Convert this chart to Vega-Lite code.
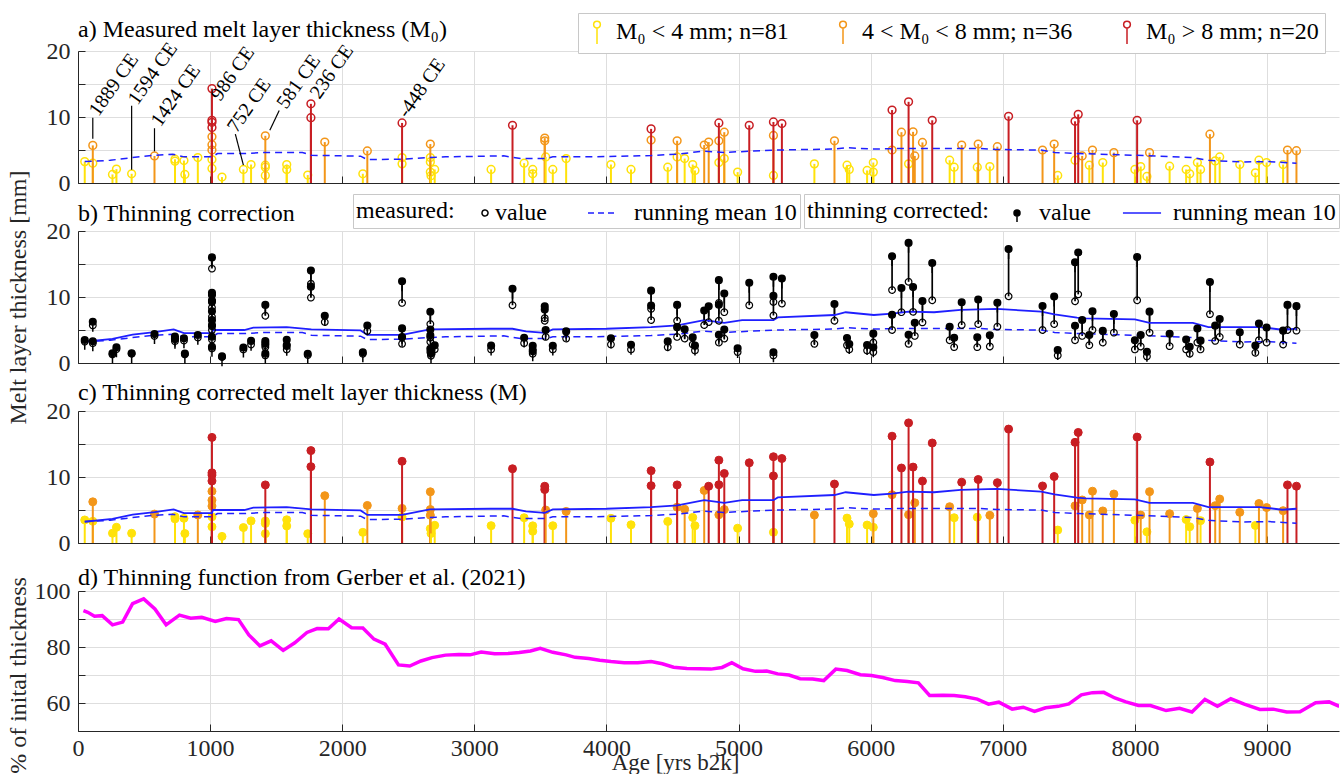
{
 "$schema": "https://vega.github.io/schema/vega-lite/v6.json",
 "padding": {"left": 6, "top": 12, "right": 0, "bottom": 0},
 "bounds": "flush",
 "spacing": 48,
 "config": {
  "font": "Liberation Serif",
  "view": {"stroke": null},
  "axis": {"labelFontSize": 24, "labelColor": "#262626", "titleFontSize": 24, "titleFontWeight": "normal", "titleColor": "#262626", "gridColor": "#dedede", "domainColor": "#262626", "tickColor": "#262626", "labelFont": "Liberation Serif", "titleFont": "Liberation Serif"},
  "title": {"anchor": "start", "frame": "group", "fontSize": 24, "fontWeight": "normal", "font": "Liberation Serif", "color": "black", "offset": 4},
  "legend": {"labelFont": "Liberation Serif", "labelFontSize": 24, "labelColor": "black", "titleFont": "Liberation Serif", "titleFontSize": 24, "titleFontWeight": "normal", "titleColor": "black", "strokeColor": "#c8c8c8", "fillColor": "white", "labelLimit": 500, "titleLimit": 500}
 },
 "datasets": {
  "ev": [
{"age":51,"m0":3.24,"m":3.49,"c0":"y","c1":"y"},
{"age":112,"m0":3.0,"m":3.29,"c0":"y","c1":"y"},
{"age":112,"m0":5.7,"m":6.24,"c0":"o","c1":"o"},
{"age":261,"m0":1.3,"m":1.48,"c0":"y","c1":"y"},
{"age":291,"m0":2.1,"m":2.38,"c0":"y","c1":"y"},
{"age":406,"m0":1.4,"m":1.47,"c0":"y","c1":"y"},
{"age":579,"m0":4.1,"m":4.38,"c0":"o","c1":"o"},
{"age":734,"m0":3.3,"m":3.66,"c0":"y","c1":"y"},
{"age":734,"m0":3.6,"m":3.99,"c0":"y","c1":"y"},
{"age":802,"m0":3.4,"m":3.74,"c0":"y","c1":"y"},
{"age":809,"m0":1.3,"m":1.43,"c0":"y","c1":"y"},
{"age":907,"m0":3.85,"m":4.25,"c0":"y","c1":"o"},
{"age":1014,"m0":2.2,"m":2.46,"c0":"y","c1":"y"},
{"age":1014,"m0":3.55,"m":3.97,"c0":"y","c1":"y"},
{"age":1014,"m0":5.0,"m":5.59,"c0":"o","c1":"o"},
{"age":1014,"m0":5.8,"m":6.49,"c0":"o","c1":"o"},
{"age":1014,"m0":7.0,"m":7.83,"c0":"o","c1":"o"},
{"age":1014,"m0":8.4,"m":9.4,"c0":"r","c1":"r"},
{"age":1014,"m0":9.2,"m":10.29,"c0":"r","c1":"r"},
{"age":1014,"m0":9.5,"m":10.63,"c0":"r","c1":"r"},
{"age":1014,"m0":14.3,"m":16.0,"c0":"r","c1":"r"},
{"age":1090,"m0":0.9,"m":1.0,"c0":"y","c1":"y"},
{"age":1252,"m0":2.05,"m":2.34,"c0":"y","c1":"y"},
{"age":1310,"m0":2.8,"m":3.35,"c0":"y","c1":"y"},
{"age":1418,"m0":1.15,"m":1.42,"c0":"y","c1":"y"},
{"age":1418,"m0":2.4,"m":2.96,"c0":"y","c1":"y"},
{"age":1418,"m0":2.7,"m":3.33,"c0":"y","c1":"y"},
{"age":1418,"m0":7.15,"m":8.8,"c0":"o","c1":"r"},
{"age":1580,"m0":2.05,"m":2.58,"c0":"y","c1":"y"},
{"age":1580,"m0":2.8,"m":3.52,"c0":"y","c1":"y"},
{"age":1739,"m0":1.2,"m":1.41,"c0":"y","c1":"y"},
{"age":1763,"m0":9.9,"m":11.57,"c0":"r","c1":"r"},
{"age":1763,"m0":12.0,"m":14.0,"c0":"r","c1":"r"},
{"age":1868,"m0":6.2,"m":7.17,"c0":"o","c1":"o"},
{"age":2156,"m0":1.4,"m":1.61,"c0":"y","c1":"y"},
{"age":2190,"m0":4.85,"m":5.69,"c0":"o","c1":"o"},
{"age":2453,"m0":2.9,"m":3.95,"c0":"y","c1":"y"},
{"age":2453,"m0":3.85,"m":5.24,"c0":"y","c1":"o"},
{"age":2453,"m0":9.1,"m":12.38,"c0":"r","c1":"r"},
{"age":2667,"m0":1.65,"m":2.17,"c0":"y","c1":"y"},
{"age":2667,"m0":3.2,"m":4.21,"c0":"y","c1":"o"},
{"age":2667,"m0":3.85,"m":5.07,"c0":"y","c1":"o"},
{"age":2667,"m0":5.9,"m":7.76,"c0":"o","c1":"o"},
{"age":2672,"m0":1.1,"m":1.45,"c0":"y","c1":"y"},
{"age":2700,"m0":2.05,"m":2.68,"c0":"y","c1":"y"},
{"age":3127,"m0":2.05,"m":2.63,"c0":"y","c1":"y"},
{"age":3289,"m0":8.75,"m":11.25,"c0":"r","c1":"r"},
{"age":3377,"m0":3.0,"m":3.83,"c0":"y","c1":"y"},
{"age":3442,"m0":1.4,"m":1.78,"c0":"y","c1":"y"},
{"age":3442,"m0":2.05,"m":2.6,"c0":"y","c1":"y"},
{"age":3533,"m0":6.4,"m":8.1,"c0":"o","c1":"r"},
{"age":3533,"m0":6.8,"m":8.6,"c0":"o","c1":"r"},
{"age":3540,"m0":3.95,"m":5.0,"c0":"y","c1":"o"},
{"age":3594,"m0":2.05,"m":2.62,"c0":"y","c1":"y"},
{"age":3695,"m0":3.7,"m":4.79,"c0":"y","c1":"o"},
{"age":4034,"m0":2.8,"m":3.74,"c0":"y","c1":"y"},
{"age":4186,"m0":2.05,"m":2.76,"c0":"y","c1":"y"},
{"age":4338,"m0":6.5,"m":8.69,"c0":"o","c1":"r"},
{"age":4338,"m0":8.2,"m":10.96,"c0":"r","c1":"r"},
{"age":4464,"m0":2.4,"m":3.27,"c0":"y","c1":"y"},
{"age":4535,"m0":3.95,"m":5.43,"c0":"y","c1":"o"},
{"age":4535,"m0":6.4,"m":8.8,"c0":"o","c1":"r"},
{"age":4592,"m0":3.7,"m":5.11,"c0":"y","c1":"o"},
{"age":4653,"m0":2.8,"m":3.88,"c0":"y","c1":"y"},
{"age":4670,"m0":1.9,"m":2.63,"c0":"y","c1":"y"},
{"age":4740,"m0":5.75,"m":7.96,"c0":"o","c1":"o"},
{"age":4774,"m0":6.2,"m":8.6,"c0":"o","c1":"r"},
{"age":4851,"m0":3.1,"m":4.28,"c0":"y","c1":"o"},
{"age":4851,"m0":6.4,"m":8.83,"c0":"o","c1":"r"},
{"age":4851,"m0":9.1,"m":12.55,"c0":"r","c1":"r"},
{"age":4892,"m0":3.7,"m":5.06,"c0":"y","c1":"o"},
{"age":4892,"m0":7.7,"m":10.53,"c0":"o","c1":"r"},
{"age":4993,"m0":1.65,"m":2.24,"c0":"y","c1":"y"},
{"age":5081,"m0":8.75,"m":12.15,"c0":"r","c1":"r"},
{"age":5264,"m0":1.15,"m":1.62,"c0":"y","c1":"y"},
{"age":5264,"m0":7.2,"m":10.17,"c0":"o","c1":"r"},
{"age":5264,"m0":9.25,"m":13.07,"c0":"r","c1":"r"},
{"age":5328,"m0":9.0,"m":12.8,"c0":"r","c1":"r"},
{"age":5574,"m0":2.9,"m":4.23,"c0":"y","c1":"o"},
{"age":5726,"m0":6.4,"m":8.93,"c0":"o","c1":"r"},
{"age":5821,"m0":2.7,"m":3.77,"c0":"y","c1":"y"},
{"age":5838,"m0":2.05,"m":2.88,"c0":"y","c1":"y"},
{"age":5973,"m0":1.9,"m":2.72,"c0":"y","c1":"y"},
{"age":6020,"m0":1.65,"m":2.37,"c0":"y","c1":"y"},
{"age":6020,"m0":3.1,"m":4.45,"c0":"y","c1":"o"},
{"age":6162,"m0":5.0,"m":7.32,"c0":"o","c1":"o"},
{"age":6162,"m0":11.05,"m":16.18,"c0":"r","c1":"r"},
{"age":6233,"m0":7.7,"m":11.36,"c0":"o","c1":"r"},
{"age":6287,"m0":2.9,"m":4.29,"c0":"y","c1":"o"},
{"age":6287,"m0":12.3,"m":18.2,"c0":"r","c1":"r"},
{"age":6321,"m0":7.75,"m":11.5,"c0":"o","c1":"r"},
{"age":6334,"m0":4.1,"m":6.09,"c0":"o","c1":"o"},
{"age":6392,"m0":6.15,"m":9.38,"c0":"o","c1":"r"},
{"age":6466,"m0":9.5,"m":15.15,"c0":"r","c1":"r"},
{"age":6598,"m0":3.45,"m":5.5,"c0":"y","c1":"o"},
{"age":6632,"m0":2.4,"m":3.83,"c0":"y","c1":"y"},
{"age":6689,"m0":5.75,"m":9.21,"c0":"o","c1":"r"},
{"age":6807,"m0":2.4,"m":3.91,"c0":"y","c1":"y"},
{"age":6814,"m0":5.9,"m":9.62,"c0":"o","c1":"r"},
{"age":6902,"m0":2.5,"m":4.19,"c0":"y","c1":"o"},
{"age":6959,"m0":5.5,"m":9.14,"c0":"o","c1":"r"},
{"age":7044,"m0":10.1,"m":17.26,"c0":"r","c1":"r"},
{"age":7301,"m0":5.0,"m":8.64,"c0":"o","c1":"r"},
{"age":7389,"m0":5.9,"m":10.07,"c0":"o","c1":"r"},
{"age":7416,"m0":1.15,"m":1.96,"c0":"y","c1":"y"},
{"age":7547,"m0":3.45,"m":5.63,"c0":"y","c1":"o"},
{"age":7547,"m0":9.35,"m":15.25,"c0":"r","c1":"r"},
{"age":7571,"m0":10.4,"m":16.75,"c0":"r","c1":"r"},
{"age":7601,"m0":4.1,"m":6.52,"c0":"o","c1":"o"},
{"age":7655,"m0":2.7,"m":4.25,"c0":"y","c1":"o"},
{"age":7679,"m0":5.0,"m":7.85,"c0":"o","c1":"o"},
{"age":7757,"m0":3.1,"m":4.86,"c0":"y","c1":"o"},
{"age":7841,"m0":4.6,"m":7.42,"c0":"o","c1":"o"},
{"age":8000,"m0":2.05,"m":3.45,"c0":"y","c1":"y"},
{"age":8017,"m0":9.5,"m":16.05,"c0":"r","c1":"r"},
{"age":8044,"m0":2.5,"m":4.23,"c0":"y","c1":"o"},
{"age":8091,"m0":1.0,"m":1.69,"c0":"y","c1":"y"},
{"age":8111,"m0":4.6,"m":7.78,"c0":"o","c1":"o"},
{"age":8263,"m0":2.55,"m":4.43,"c0":"y","c1":"o"},
{"age":8388,"m0":2.05,"m":3.55,"c0":"y","c1":"y"},
{"age":8415,"m0":1.4,"m":2.46,"c0":"y","c1":"y"},
{"age":8473,"m0":3.1,"m":5.23,"c0":"y","c1":"o"},
{"age":8497,"m0":2.05,"m":3.39,"c0":"y","c1":"y"},
{"age":8568,"m0":7.4,"m":12.27,"c0":"o","c1":"r"},
{"age":8608,"m0":3.35,"m":5.66,"c0":"y","c1":"o"},
{"age":8642,"m0":3.95,"m":6.66,"c0":"y","c1":"o"},
{"age":8794,"m0":2.8,"m":4.65,"c0":"y","c1":"o"},
{"age":8912,"m0":1.55,"m":2.66,"c0":"y","c1":"y"},
{"age":8939,"m0":3.45,"m":5.98,"c0":"y","c1":"o"},
{"age":8997,"m0":3.1,"m":5.37,"c0":"y","c1":"o"},
{"age":9122,"m0":2.8,"m":4.9,"c0":"y","c1":"o"},
{"age":9155,"m0":5.0,"m":8.8,"c0":"o","c1":"r"},
{"age":9223,"m0":4.9,"m":8.61,"c0":"o","c1":"r"}
  ],
  "rm": [
{"age":51,"v":3.24,"s":"m"},{"age":244,"v":3.44,"s":"m"},{"age":413,"v":3.86,"s":"m"},{"age":579,"v":4.2,"s":"m"},{"age":717,"v":4.37,"s":"m"},{"age":802,"v":3.96,"s":"m"},{"age":1014,"v":3.96,"s":"m"},{"age":1056,"v":4.47,"s":"m"},{"age":1259,"v":4.47,"s":"m"},{"age":1428,"v":4.63,"s":"m"},{"age":1699,"v":4.63,"s":"m"},{"age":1766,"v":4.2,"s":"m"},{"age":2139,"v":4.06,"s":"m"},{"age":2190,"v":3.55,"s":"m"},{"age":2453,"v":3.6,"s":"m"},{"age":2663,"v":3.86,"s":"m"},{"age":2782,"v":3.96,"s":"m"},{"age":3222,"v":4.11,"s":"m"},{"age":3357,"v":3.7,"s":"m"},{"age":3543,"v":3.7,"s":"m"},{"age":3594,"v":3.96,"s":"m"},{"age":3898,"v":3.96,"s":"m"},{"age":4250,"v":4.11,"s":"m"},{"age":4338,"v":4.16,"s":"m"},{"age":4537,"v":4.37,"s":"m"},{"age":4740,"v":4.83,"s":"m"},{"age":4892,"v":4.63,"s":"m"},{"age":5264,"v":4.99,"s":"m"},{"age":5726,"v":5.14,"s":"m"},{"age":5811,"v":5.35,"s":"m"},{"age":6024,"v":5.14,"s":"m"},{"age":6277,"v":5.24,"s":"m"},{"age":6818,"v":5.24,"s":"m"},{"age":6953,"v":5.09,"s":"m"},{"age":7291,"v":4.99,"s":"m"},{"age":7392,"v":4.63,"s":"m"},{"age":7578,"v":4.47,"s":"m"},{"age":8000,"v":4.2,"s":"m"},{"age":8439,"v":3.86,"s":"m"},{"age":8557,"v":3.44,"s":"m"},{"age":8811,"v":3.19,"s":"m"},{"age":9014,"v":3.24,"s":"m"},{"age":9182,"v":3.03,"s":"m"},{"age":9223,"v":3.0,"s":"m"},
{"age":51,"v":3.22,"s":"c"},{"age":261,"v":3.64,"s":"c"},{"age":413,"v":4.31,"s":"c"},{"age":579,"v":4.68,"s":"c"},{"age":724,"v":5.09,"s":"c"},{"age":802,"v":4.52,"s":"c"},{"age":1014,"v":4.52,"s":"c"},{"age":1022,"v":5.0,"s":"c"},{"age":1259,"v":5.0,"s":"c"},{"age":1327,"v":5.35,"s":"c"},{"age":1580,"v":5.45,"s":"c"},{"age":1766,"v":5.09,"s":"c"},{"age":2139,"v":4.94,"s":"c"},{"age":2190,"v":4.26,"s":"c"},{"age":2453,"v":4.26,"s":"c"},{"age":2663,"v":5.09,"s":"c"},{"age":3120,"v":5.19,"s":"c"},{"age":3289,"v":5.19,"s":"c"},{"age":3391,"v":4.78,"s":"c"},{"age":3533,"v":4.57,"s":"c"},{"age":3594,"v":5.09,"s":"c"},{"age":4000,"v":5.19,"s":"c"},{"age":4338,"v":5.45,"s":"c"},{"age":4537,"v":5.71,"s":"c"},{"age":4740,"v":6.49,"s":"c"},{"age":4892,"v":6.08,"s":"c"},{"age":5027,"v":6.49,"s":"c"},{"age":5264,"v":6.49,"s":"c"},{"age":5297,"v":6.91,"s":"c"},{"age":5726,"v":7.27,"s":"c"},{"age":5811,"v":7.69,"s":"c"},{"age":6024,"v":7.27,"s":"c"},{"age":6162,"v":7.48,"s":"c"},{"age":6287,"v":7.79,"s":"c"},{"age":6480,"v":7.69,"s":"c"},{"age":6682,"v":8.05,"s":"c"},{"age":6953,"v":8.2,"s":"c"},{"age":7291,"v":7.79,"s":"c"},{"age":7392,"v":7.38,"s":"c"},{"age":7561,"v":6.86,"s":"c"},{"age":7628,"v":6.75,"s":"c"},{"age":8000,"v":6.6,"s":"c"},{"age":8111,"v":6.08,"s":"c"},{"age":8439,"v":6.08,"s":"c"},{"age":8557,"v":5.45,"s":"c"},{"age":8946,"v":5.45,"s":"c"},{"age":9115,"v":5.04,"s":"c"},{"age":9223,"v":5.19,"s":"c"}
  ],
  "th": [
{"age":41,"f":93.0},{"age":74,"f":92.4},{"age":125,"f":91.0},{"age":183,"f":91.2},{"age":261,"f":87.9},{"age":338,"f":88.9},{"age":413,"f":95.5},{"age":497,"f":97.2},{"age":582,"f":93.6},{"age":667,"f":87.9},{"age":768,"f":91.4},{"age":853,"f":90.3},{"age":937,"f":90.6},{"age":1039,"f":89.1},{"age":1124,"f":90.2},{"age":1215,"f":89.8},{"age":1293,"f":84.3},{"age":1377,"f":80.4},{"age":1462,"f":82.2},{"age":1553,"f":78.8},{"age":1641,"f":81.5},{"age":1733,"f":85.2},{"age":1810,"f":86.6},{"age":1895,"f":86.5},{"age":1976,"f":90.0},{"age":2071,"f":86.9},{"age":2156,"f":86.8},{"age":2240,"f":82.8},{"age":2325,"f":81.0},{"age":2426,"f":73.6},{"age":2511,"f":73.2},{"age":2596,"f":75.0},{"age":2680,"f":76.2},{"age":2782,"f":77.1},{"age":2883,"f":77.3},{"age":2968,"f":77.2},{"age":3052,"f":78.2},{"age":3154,"f":77.6},{"age":3255,"f":77.7},{"age":3340,"f":78.0},{"age":3425,"f":78.6},{"age":3499,"f":79.5},{"age":3594,"f":78.1},{"age":3695,"f":77.2},{"age":3763,"f":76.3},{"age":3865,"f":75.9},{"age":3949,"f":75.3},{"age":4034,"f":74.8},{"age":4135,"f":74.4},{"age":4237,"f":74.4},{"age":4338,"f":74.8},{"age":4423,"f":74.0},{"age":4508,"f":72.8},{"age":4609,"f":72.3},{"age":4704,"f":72.2},{"age":4791,"f":72.1},{"age":4875,"f":72.7},{"age":4949,"f":74.4},{"age":5034,"f":72.2},{"age":5128,"f":71.3},{"age":5213,"f":71.4},{"age":5297,"f":70.4},{"age":5382,"f":70.0},{"age":5466,"f":68.7},{"age":5561,"f":68.6},{"age":5645,"f":68.0},{"age":5736,"f":72.1},{"age":5821,"f":71.6},{"age":5922,"f":70.1},{"age":6007,"f":69.8},{"age":6091,"f":69.1},{"age":6186,"f":68.0},{"age":6277,"f":67.7},{"age":6361,"f":67.2},{"age":6446,"f":62.7},{"age":6547,"f":62.8},{"age":6632,"f":62.7},{"age":6716,"f":62.2},{"age":6807,"f":61.4},{"age":6892,"f":59.6},{"age":6970,"f":60.3},{"age":7071,"f":57.8},{"age":7155,"f":58.5},{"age":7240,"f":57.0},{"age":7324,"f":58.3},{"age":7419,"f":58.8},{"age":7500,"f":59.7},{"age":7595,"f":62.9},{"age":7679,"f":63.7},{"age":7764,"f":63.8},{"age":7848,"f":61.8},{"age":7932,"f":60.4},{"age":8027,"f":59.1},{"age":8118,"f":59.1},{"age":8236,"f":57.3},{"age":8338,"f":58.1},{"age":8432,"f":56.8},{"age":8530,"f":61.3},{"age":8625,"f":58.8},{"age":8726,"f":61.5},{"age":8828,"f":59.6},{"age":8946,"f":57.7},{"age":9047,"f":57.8},{"age":9149,"f":56.8},{"age":9250,"f":56.9},{"age":9368,"f":60.1},{"age":9470,"f":60.4},{"age":9547,"f":58.8}
  ],
  "al": [
{"age":112,"age2":112,"v":6.7,"v2":9.9},
{"age":406,"age2":406,"v":2.0,"v2":11.7},
{"age":579,"age2":579,"v":4.8,"v2":8.3},
{"age":1252,"age2":1191,"v":2.7,"v2":7.4},
{"age":1452,"age2":1523,"v":8.0,"v2":11.0}
  ],
  "an": [
{"age":118,"v":10.5,"t":"1889 CE"},
{"age":413,"v":12.2,"t":"1594 CE"},
{"age":588,"v":8.9,"t":"1424 CE"},
{"age":1040,"v":12.8,"t":"986 CE"},
{"age":1165,"v":8.0,"t":"752 CE"},
{"age":1540,"v":11.6,"t":"581 CE"},
{"age":1790,"v":13.1,"t":"236 CE"},
{"age":2455,"v":10.2,"t":"-448 CE"}
  ]
 },
 "vconcat": [
  {
   "width": 1261, "height": 132,
   "title": {"text": "a) Measured melt layer thickness (M\u2080)", "dy": 7},
   "layer": [
    {"data": {"name": "ev"}, "mark": {"type": "point", "filled": false, "size": 60, "strokeWidth": 1.5, "opacity": 1},
     "encoding": {
      "x": {"field": "age", "type": "quantitative", "scale": {"domain": [0, 9545], "nice": false, "zero": false}, "axis": {"title": null, "labels": false, "values": [0,1000,2000,3000,4000,5000,6000,7000,8000,9000], "tickSize": -7, "grid": true}},
      "y": {"field": "m0", "type": "quantitative", "scale": {"domain": [0, 20], "nice": false, "zero": false}, "axis": {"title": null, "values": [0,5,10,15,20], "labelExpr": "datum.value % 10 === 0 ? datum.label : ''", "tickSize": -7, "labelPadding": 15, "grid": true}},
      "stroke": {"field": "c0", "type": "nominal", "scale": {"domain": ["y","o","r"], "range": ["#ffe20a","#f39619","#c81e23"]},
       "legend": {"orient": "none", "legendX": 500, "legendY": -38, "direction": "horizontal", "title": null,
        "symbolType": "M0,-0.34L0,1M-0.28,-0.62A0.28,0.28 0 1,1 0.28,-0.62A0.28,0.28 0 1,1 -0.28,-0.62A0.28,0.28 0 1,0 0.28,-0.62A0.28,0.28 0 1,0 -0.28,-0.62",
        "symbolSize": 576, "symbolStrokeWidth": 1.5, "labelOffset": 6, "columnPadding": 41, "padding": 6,
        "labelExpr": "datum.value === 'y' ? 'M\u2080 < 4 mm; n=81' : datum.value === 'o' ? '4 < M\u2080 < 8 mm; n=36' : 'M\u2080 > 8 mm; n=20'"}}
     }},
    {"data": {"name": "ev"}, "mark": {"type": "rule", "strokeWidth": 2},
     "encoding": {
      "x": {"field": "age", "type": "quantitative", "scale": {"domain": [0, 9545], "nice": false, "zero": false}, "axis": {"title": null, "labels": false, "values": [0,1000,2000,3000,4000,5000,6000,7000,8000,9000], "tickSize": -7, "grid": true}},
      "y": {"field": "m0", "type": "quantitative", "scale": {"domain": [0, 20], "nice": false, "zero": false}, "axis": {"title": null, "values": [0,5,10,15,20], "labelExpr": "datum.value % 10 === 0 ? datum.label : ''", "tickSize": -7, "labelPadding": 15, "grid": true}},
      "y2": {"datum": 0},
      "stroke": {"field": "c0", "type": "nominal", "scale": {"domain": ["y","o","r"], "range": ["#ffe20a","#f39619","#c81e23"]}, "legend": null}
     }},
    {"data": {"name": "rm"}, "transform": [{"filter": "datum.s === 'm'"}], "mark": {"type": "line", "stroke": "#1f1fff", "strokeDash": [7,5], "strokeWidth": 1.5},
     "encoding": {
      "x": {"field": "age", "type": "quantitative", "scale": {"domain": [0, 9545], "nice": false, "zero": false}, "axis": {"title": null, "labels": false, "values": [0,1000,2000,3000,4000,5000,6000,7000,8000,9000], "tickSize": -7, "grid": true}},
      "y": {"field": "v", "type": "quantitative", "scale": {"domain": [0, 20], "nice": false, "zero": false}, "axis": {"title": null, "values": [0,5,10,15,20], "labelExpr": "datum.value % 10 === 0 ? datum.label : ''", "tickSize": -7, "labelPadding": 15, "grid": true}}
     }},
    {"data": {"name": "al"}, "mark": {"type": "rule", "stroke": "black", "strokeWidth": 1.2},
     "encoding": {
      "x": {"field": "age", "type": "quantitative", "scale": {"domain": [0, 9545], "nice": false, "zero": false}, "axis": {"title": null, "labels": false, "values": [0,1000,2000,3000,4000,5000,6000,7000,8000,9000], "tickSize": -7, "grid": true}},
      "x2": {"field": "age2"},
      "y": {"field": "v", "type": "quantitative", "scale": {"domain": [0, 20], "nice": false, "zero": false}, "axis": {"title": null, "values": [0,5,10,15,20], "labelExpr": "datum.value % 10 === 0 ? datum.label : ''", "tickSize": -7, "labelPadding": 15, "grid": true}},
      "y2": {"field": "v2"}
     }},
    {"data": {"name": "an"}, "mark": {"type": "text", "angle": -55, "align": "left", "baseline": "middle", "fontSize": 20, "font": "Liberation Serif", "color": "black"},
     "encoding": {
      "x": {"field": "age", "type": "quantitative", "scale": {"domain": [0, 9545], "nice": false, "zero": false}, "axis": {"title": null, "labels": false, "values": [0,1000,2000,3000,4000,5000,6000,7000,8000,9000], "tickSize": -7, "grid": true}},
      "y": {"field": "v", "type": "quantitative", "scale": {"domain": [0, 20], "nice": false, "zero": false}, "axis": {"title": null, "values": [0,5,10,15,20], "labelExpr": "datum.value % 10 === 0 ? datum.label : ''", "tickSize": -7, "labelPadding": 15, "grid": true}},
      "text": {"field": "t"}
     }}
   ]
  },
  {
   "width": 1261, "height": 132,
   "title": {"text": "b) Thinning correction", "dy": 60},
   "resolve": {"scale": {"shape": "independent", "stroke": "independent", "strokeDash": "independent", "fill": "independent"}, "legend": {"shape": "independent", "stroke": "independent", "strokeDash": "independent", "fill": "independent"}},
   "layer": [
    {"data": {"name": "ev"}, "mark": {"type": "rule", "strokeWidth": 1.7, "color": "black"},
     "encoding": {
      "x": {"field": "age", "type": "quantitative", "scale": {"domain": [0, 9545], "nice": false, "zero": false}, "axis": {"title": null, "labels": false, "values": [0,1000,2000,3000,4000,5000,6000,7000,8000,9000], "tickSize": -7, "grid": true}},
      "y": {"field": "m0", "type": "quantitative", "scale": {"domain": [0, 20], "nice": false, "zero": false}, "axis": {"title": "Melt layer thickness [mm]", "titlePadding": 16, "values": [0,5,10,15,20], "labelExpr": "datum.value % 10 === 0 ? datum.label : ''", "tickSize": -7, "labelPadding": 15, "grid": true}},
      "y2": {"field": "m"}
     }},
    {"data": {"name": "rm"}, "transform": [{"filter": "datum.s === 'm'"}], "mark": {"type": "line", "stroke": "#1f1fff", "strokeDash": [7,5], "strokeWidth": 1.5},
     "encoding": {
      "x": {"field": "age", "type": "quantitative", "scale": {"domain": [0, 9545], "nice": false, "zero": false}, "axis": {"title": null, "labels": false, "values": [0,1000,2000,3000,4000,5000,6000,7000,8000,9000], "tickSize": -7, "grid": true}},
      "y": {"field": "v", "type": "quantitative", "scale": {"domain": [0, 20], "nice": false, "zero": false}, "axis": {"title": "Melt layer thickness [mm]", "titlePadding": 16, "values": [0,5,10,15,20], "labelExpr": "datum.value % 10 === 0 ? datum.label : ''", "tickSize": -7, "labelPadding": 15, "grid": true}}
     }},
    {"data": {"name": "rm"}, "transform": [{"filter": "datum.s === 'c'"}], "mark": {"type": "line", "stroke": "#1f1fff", "strokeWidth": 1.8},
     "encoding": {
      "x": {"field": "age", "type": "quantitative", "scale": {"domain": [0, 9545], "nice": false, "zero": false}, "axis": {"title": null, "labels": false, "values": [0,1000,2000,3000,4000,5000,6000,7000,8000,9000], "tickSize": -7, "grid": true}},
      "y": {"field": "v", "type": "quantitative", "scale": {"domain": [0, 20], "nice": false, "zero": false}, "axis": {"title": "Melt layer thickness [mm]", "titlePadding": 16, "values": [0,5,10,15,20], "labelExpr": "datum.value % 10 === 0 ? datum.label : ''", "tickSize": -7, "labelPadding": 15, "grid": true}}
     }},
    {"data": {"name": "ev"}, "mark": {"type": "point", "filled": false, "size": 1089, "strokeWidth": 1.2, "opacity": 1},
     "encoding": {
      "x": {"field": "age", "type": "quantitative", "scale": {"domain": [0, 9545], "nice": false, "zero": false}, "axis": {"title": null, "labels": false, "values": [0,1000,2000,3000,4000,5000,6000,7000,8000,9000], "tickSize": -7, "grid": true}},
      "y": {"field": "m0", "type": "quantitative", "scale": {"domain": [0, 20], "nice": false, "zero": false}, "axis": {"title": "Melt layer thickness [mm]", "titlePadding": 16, "values": [0,5,10,15,20], "labelExpr": "datum.value % 10 === 0 ? datum.label : ''", "tickSize": -7, "labelPadding": 15, "grid": true}},
      "shape": {"datum": "value", "type": "nominal", "scale": {"domain": ["value","running mean 10"], "range": ["M-0.2,0A0.2,0.2 0 1,1 0.2,0A0.2,0.2 0 1,1 -0.2,0Z", "M-2.4,0L-0.47,0"]},
       "legend": {"title": "measured:", "orient": "none", "legendX": 275, "legendY": -37, "direction": "horizontal", "titleOrient": "left", "titlePadding": 14, "symbolSize": 900, "symbolStrokeWidth": 1.5, "labelOffset": -6, "columnPadding": 38, "padding": 3}},
      "stroke": {"datum": "value", "type": "nominal", "scale": {"domain": ["value","running mean 10"], "range": ["black", "#1f1fff"]},
       "legend": {"title": "measured:", "orient": "none", "legendX": 275, "legendY": -37, "direction": "horizontal", "titleOrient": "left", "titlePadding": 14, "symbolSize": 900, "symbolStrokeWidth": 1.5, "labelOffset": -6, "columnPadding": 38, "padding": 3}},
      "strokeDash": {"datum": "value", "type": "nominal", "scale": {"domain": ["value","running mean 10"], "range": [[1,0],[6,4]]},
       "legend": {"title": "measured:", "orient": "none", "legendX": 275, "legendY": -37, "direction": "horizontal", "titleOrient": "left", "titlePadding": 14, "symbolSize": 900, "symbolStrokeWidth": 1.5, "labelOffset": -6, "columnPadding": 38, "padding": 3}}
     }},
    {"data": {"name": "ev"}, "mark": {"type": "point", "filled": true, "size": 1089, "strokeWidth": 1.5, "opacity": 1},
     "encoding": {
      "x": {"field": "age", "type": "quantitative", "scale": {"domain": [0, 9545], "nice": false, "zero": false}, "axis": {"title": null, "labels": false, "values": [0,1000,2000,3000,4000,5000,6000,7000,8000,9000], "tickSize": -7, "grid": true}},
      "y": {"field": "m", "type": "quantitative", "scale": {"domain": [0, 20], "nice": false, "zero": false}, "axis": {"title": "Melt layer thickness [mm]", "titlePadding": 16, "values": [0,5,10,15,20], "labelExpr": "datum.value % 10 === 0 ? datum.label : ''", "tickSize": -7, "labelPadding": 15, "grid": true}},
      "shape": {"datum": "value", "type": "nominal", "scale": {"domain": ["value","running mean 10"], "range": ["M0,0.2L0,0.6M-0.2,0A0.2,0.2 0 1,1 0.2,0A0.2,0.2 0 1,1 -0.2,0Z", "M-1.87,0L0.67,0"]},
       "legend": {"title": "thinning corrected:", "orient": "none", "legendX": 726, "legendY": -37, "direction": "horizontal", "titleOrient": "left", "titlePadding": 12, "symbolSize": 900, "symbolStrokeWidth": 1.5, "labelOffset": 6, "columnPadding": 28, "padding": 3}},
      "stroke": {"datum": "value", "type": "nominal", "scale": {"domain": ["value","running mean 10"], "range": ["black", "#1f1fff"]},
       "legend": {"title": "thinning corrected:", "orient": "none", "legendX": 726, "legendY": -37, "direction": "horizontal", "titleOrient": "left", "titlePadding": 12, "symbolSize": 900, "symbolStrokeWidth": 1.5, "labelOffset": 6, "columnPadding": 28, "padding": 3}},
      "fill": {"datum": "value", "type": "nominal", "scale": {"domain": ["value","running mean 10"], "range": ["black", "transparent"]},
       "legend": {"title": "thinning corrected:", "orient": "none", "legendX": 726, "legendY": -37, "direction": "horizontal", "titleOrient": "left", "titlePadding": 12, "symbolSize": 900, "symbolStrokeWidth": 1.5, "labelOffset": 6, "columnPadding": 28, "padding": 3}}
     }}
   ]
  },
  {
   "width": 1261, "height": 132,
   "title": {"text": "c) Thinning corrected melt layer thickness (M)", "dy": 10},
   "layer": [
    {"data": {"name": "ev"}, "mark": {"type": "point", "filled": true, "size": 64, "strokeWidth": 1, "opacity": 1},
     "encoding": {
      "x": {"field": "age", "type": "quantitative", "scale": {"domain": [0, 9545], "nice": false, "zero": false}, "axis": {"title": null, "labels": false, "values": [0,1000,2000,3000,4000,5000,6000,7000,8000,9000], "tickSize": -7, "grid": true}},
      "y": {"field": "m", "type": "quantitative", "scale": {"domain": [0, 20], "nice": false, "zero": false}, "axis": {"title": null, "values": [0,5,10,15,20], "labelExpr": "datum.value % 10 === 0 ? datum.label : ''", "tickSize": -7, "labelPadding": 15, "grid": true}},
      "fill": {"field": "c1", "type": "nominal", "scale": {"domain": ["y","o","r"], "range": ["#ffe20a","#f39619","#c81e23"]},
       "legend": {"orient": "none", "legendX": 498, "legendY": -36, "direction": "horizontal", "title": null,
        "symbolType": "M0,-0.34L0,1M-0.28,-0.62A0.28,0.28 0 1,1 0.28,-0.62A0.28,0.28 0 1,1 -0.28,-0.62Z",
        "symbolSize": 576, "symbolStrokeWidth": 1.5, "labelOffset": 6, "columnPadding": 58, "padding": 6,
        "labelExpr": "datum.value === 'y' ? 'M < 4 mm; n=54' : datum.value === 'o' ? '4 < M < 8 mm; n=43' : 'M > 8 mm; n=40'"}},
      "stroke": {"field": "c1", "type": "nominal", "scale": {"domain": ["y","o","r"], "range": ["#ffe20a","#f39619","#c81e23"]},
       "legend": {"orient": "none", "legendX": 498, "legendY": -36, "direction": "horizontal", "title": null,
        "symbolType": "M0,-0.34L0,1M-0.28,-0.62A0.28,0.28 0 1,1 0.28,-0.62A0.28,0.28 0 1,1 -0.28,-0.62Z",
        "symbolSize": 576, "symbolStrokeWidth": 1.5, "labelOffset": 6, "columnPadding": 58, "padding": 6,
        "labelExpr": "datum.value === 'y' ? 'M < 4 mm; n=54' : datum.value === 'o' ? '4 < M < 8 mm; n=43' : 'M > 8 mm; n=40'"}}
     }},
    {"data": {"name": "ev"}, "mark": {"type": "rule", "strokeWidth": 2},
     "encoding": {
      "x": {"field": "age", "type": "quantitative", "scale": {"domain": [0, 9545], "nice": false, "zero": false}, "axis": {"title": null, "labels": false, "values": [0,1000,2000,3000,4000,5000,6000,7000,8000,9000], "tickSize": -7, "grid": true}},
      "y": {"field": "m", "type": "quantitative", "scale": {"domain": [0, 20], "nice": false, "zero": false}, "axis": {"title": null, "values": [0,5,10,15,20], "labelExpr": "datum.value % 10 === 0 ? datum.label : ''", "tickSize": -7, "labelPadding": 15, "grid": true}},
      "y2": {"datum": 0},
      "stroke": {"field": "c1", "type": "nominal", "scale": {"domain": ["y","o","r"], "range": ["#ffe20a","#f39619","#c81e23"]}, "legend": null}
     }},
    {"data": {"name": "rm"}, "transform": [{"filter": "datum.s === 'm'"}], "mark": {"type": "line", "stroke": "#1f1fff", "strokeDash": [7,5], "strokeWidth": 1.5},
     "encoding": {
      "x": {"field": "age", "type": "quantitative", "scale": {"domain": [0, 9545], "nice": false, "zero": false}, "axis": {"title": null, "labels": false, "values": [0,1000,2000,3000,4000,5000,6000,7000,8000,9000], "tickSize": -7, "grid": true}},
      "y": {"field": "v", "type": "quantitative", "scale": {"domain": [0, 20], "nice": false, "zero": false}, "axis": {"title": null, "values": [0,5,10,15,20], "labelExpr": "datum.value % 10 === 0 ? datum.label : ''", "tickSize": -7, "labelPadding": 15, "grid": true}}
     }},
    {"data": {"name": "rm"}, "transform": [{"filter": "datum.s === 'c'"}], "mark": {"type": "line", "stroke": "#1f1fff", "strokeWidth": 1.8},
     "encoding": {
      "x": {"field": "age", "type": "quantitative", "scale": {"domain": [0, 9545], "nice": false, "zero": false}, "axis": {"title": null, "labels": false, "values": [0,1000,2000,3000,4000,5000,6000,7000,8000,9000], "tickSize": -7, "grid": true}},
      "y": {"field": "v", "type": "quantitative", "scale": {"domain": [0, 20], "nice": false, "zero": false}, "axis": {"title": null, "values": [0,5,10,15,20], "labelExpr": "datum.value % 10 === 0 ? datum.label : ''", "tickSize": -7, "labelPadding": 15, "grid": true}}
     }}
   ]
  },
  {
   "width": 1261, "height": 140,
   "title": {"text": "d) Thinning function from Gerber et al. (2021)", "dy": 17},
   "data": {"name": "th"},
   "mark": {"type": "line", "stroke": "#ff00ff", "strokeWidth": 3.5, "clip": true},
   "encoding": {
    "x": {"field": "age", "type": "quantitative", "scale": {"domain": [0, 9545], "nice": false, "zero": false}, "axis": {"title": "Age [yrs b2k]", "titleX": 597, "titlePadding": -9, "titleFontSize": 23, "format": "d", "labelFlush": false, "values": [0,1000,2000,3000,4000,5000,6000,7000,8000,9000], "tickSize": -7, "labelPadding": 12, "grid": true}},
    "y": {"field": "f", "type": "quantitative", "scale": {"domain": [50, 100], "nice": false, "zero": false}, "axis": {"title": "% of inital thickness", "titleY": 84, "titlePadding": 4, "values": [50,60,70,80,90,100], "labelExpr": "datum.value % 20 === 0 ? datum.label : ''", "tickSize": -7, "labelPadding": 15, "grid": true}}
   }
  }
 ]
}
